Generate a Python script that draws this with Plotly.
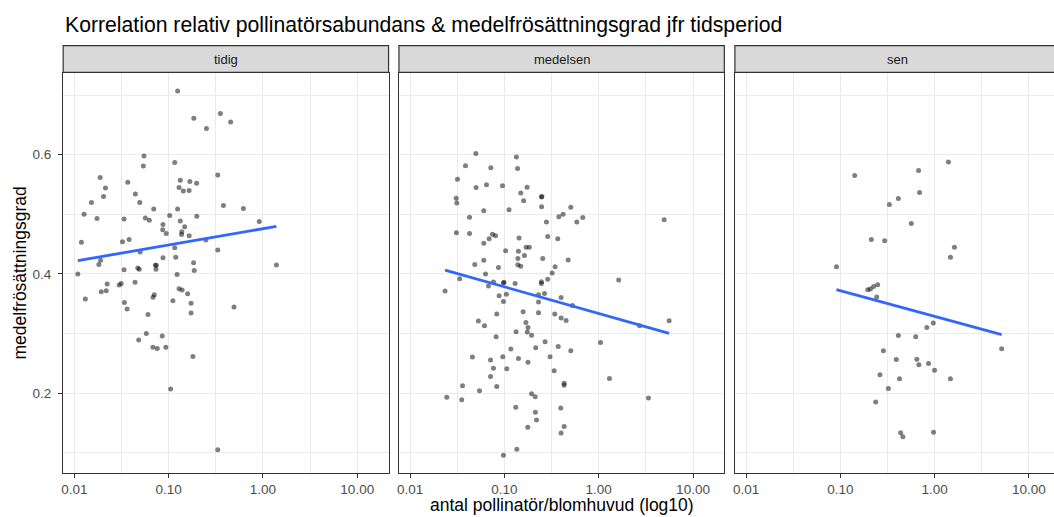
import numpy as np
import plotly.graph_objects as go

# ---------------- data ----------------
periods = ["tidig", "medelsen", "sen"]

tidig_x = [0.1245, 0.185, 0.354, 0.455, 0.252, 0.0548, 0.0539, 0.116, 0.0188, 0.0214,
           0.0204, 0.0152, 0.0127, 0.0174, 0.0369, 0.0444, 0.0494, 0.0337, 0.0566, 0.0624,
           0.0695, 0.133, 0.129, 0.143, 0.168, 0.198, 0.165, 0.332, 0.381, 0.620,
           0.914, 0.1026, 0.1245, 0.199, 0.133, 0.0871, 0.148, 0.0865, 0.0944, 0.138,
           0.137, 0.165, 0.248, 0.0119, 0.0324, 0.0381, 0.116, 0.332, 0.0498, 0.0871,
           0.119, 0.184, 1.39, 0.019, 0.0109, 0.0131, 0.0182, 0.0337, 0.0471, 0.0488,
           0.0723, 0.0741, 0.0735, 0.123, 0.187, 0.0193, 0.0218, 0.0223, 0.0299, 0.0314,
           0.0441, 0.034, 0.0363, 0.0604, 0.0705, 0.0683, 0.111, 0.129, 0.139, 0.159,
           0.173, 0.173, 0.493, 0.058, 0.0482, 0.0855, 0.0682, 0.0758, 0.0935, 0.181,
           0.105, 0.332]
tidig_y = [0.707, 0.661, 0.669, 0.655, 0.644, 0.598, 0.581, 0.587, 0.562, 0.544,
           0.530, 0.520, 0.500, 0.493, 0.554, 0.534, 0.520, 0.492, 0.494, 0.490,
           0.509, 0.557, 0.545, 0.539, 0.555, 0.552, 0.540, 0.566, 0.515, 0.510,
           0.488, 0.498, 0.509, 0.497, 0.489, 0.483, 0.479, 0.474, 0.468, 0.471,
           0.466, 0.464, 0.457, 0.453, 0.454, 0.458, 0.444, 0.440, 0.437, 0.427,
           0.428, 0.419, 0.415, 0.423, 0.400, 0.358, 0.416, 0.407, 0.410, 0.408,
           0.4145, 0.4145, 0.408, 0.399, 0.406, 0.370, 0.372, 0.383, 0.3815, 0.384,
           0.386, 0.352, 0.341, 0.332, 0.365, 0.361, 0.355, 0.375, 0.373, 0.367,
           0.351, 0.3345, 0.3445, 0.300, 0.289, 0.296, 0.277, 0.275, 0.277, 0.2615,
           0.207, 0.105]

medelsen_x = [0.0498, 0.134, 0.0387, 0.0718, 0.138, 0.0318, 0.0501, 0.0646, 0.0955, 0.174,
              0.149, 0.160, 0.0308, 0.0313, 0.247, 0.250, 0.248, 0.506, 0.0427, 0.0605,
              0.112, 0.378, 0.419, 0.678, 0.586, 0.279, 4.94, 0.031, 0.0427, 0.0748,
              0.0805, 0.0689, 0.0605, 0.143, 0.288, 0.368, 0.170, 0.184, 0.103, 0.141,
              0.163, 0.255, 0.474, 0.0485, 0.0605, 0.139, 0.139, 0.149, 0.0865, 0.345,
              0.321, 0.0336, 0.0631, 0.0235, 0.0766, 0.0678, 0.0977, 0.0990, 0.130, 0.247,
              0.247, 0.288, 1.63, 0.0879, 0.105, 0.0977, 0.230, 0.266, 0.230, 0.399,
              0.527, 0.158, 0.230, 0.083, 0.342, 0.399, 0.451, 5.58, 2.71, 0.053,
              0.0615, 0.169, 0.178, 0.175, 0.194, 0.133, 0.0817, 1.045, 0.270, 0.372,
              0.506, 0.215, 0.117, 0.0458, 0.0713, 0.0962, 0.141, 0.178, 0.305, 0.0766,
              0.106, 0.337, 0.0713, 1.30, 0.036, 0.083, 0.43, 0.43, 0.0545, 0.0245,
              0.0353, 3.37, 0.194, 0.212, 0.132, 0.396, 0.213, 0.219, 0.177, 0.43,
              0.399, 0.1355, 0.0977]
medelsen_y = [0.602, 0.596, 0.5815, 0.578, 0.577, 0.559, 0.545, 0.5495, 0.548, 0.5455,
              0.536, 0.523, 0.527, 0.519, 0.529, 0.530, 0.5126, 0.512, 0.495, 0.506,
              0.5076, 0.496, 0.500, 0.4946, 0.487, 0.487, 0.491, 0.469, 0.468, 0.4666,
              0.464, 0.459, 0.4515, 0.4605, 0.4627, 0.459, 0.445, 0.445, 0.439, 0.438,
              0.431, 0.426, 0.4235, 0.416, 0.423, 0.426, 0.4156, 0.413, 0.411, 0.412,
              0.4017, 0.392, 0.400, 0.3714, 0.3866, 0.380, 0.385, 0.386, 0.384, 0.387,
              0.384, 0.391, 0.390, 0.3635, 0.366, 0.354, 0.365, 0.3674, 0.353, 0.3607,
              0.347, 0.3366, 0.335, 0.3328, 0.3328, 0.326, 0.322, 0.3215, 0.313, 0.321,
              0.313, 0.3187, 0.310, 0.3025, 0.297, 0.303, 0.2946, 0.285, 0.2862, 0.2783,
              0.271, 0.276, 0.274, 0.2605, 0.2555, 0.261, 0.258, 0.252, 0.261, 0.242,
              0.241, 0.2375, 0.228, 0.2245, 0.2123, 0.211, 0.2168, 0.2135, 0.204, 0.193,
              0.189, 0.192, 0.199, 0.194, 0.1765, 0.175, 0.168, 0.155, 0.143, 0.144,
              0.133, 0.106, 0.096]

sen_x = [1.40, 0.142, 0.675, 0.692, 0.412, 0.331, 0.565, 0.213, 0.295, 1.62,
         1.47, 0.091, 0.195, 0.208, 0.2255, 0.249, 0.243, 0.966, 0.826, 0.412,
         0.63, 5.13, 0.286, 0.392, 0.647, 0.68, 0.861, 0.997, 0.263, 0.424,
         1.47, 0.323, 0.237, 0.436, 0.46, 0.973]
sen_y = [0.588, 0.565, 0.5736, 0.5366, 0.5266, 0.5165, 0.4845, 0.4576, 0.4555, 0.4447,
         0.428, 0.412, 0.3736, 0.3748, 0.379, 0.382, 0.3613, 0.3176, 0.310, 0.2968,
         0.2946, 0.2745, 0.271, 0.2565, 0.257, 0.2476, 0.2497, 0.2386, 0.231, 0.224,
         0.224, 0.2077, 0.1854, 0.1338, 0.127, 0.1345]

# linear fit (y ~ log10(x)) per period
fit_intercept = [0.4759, 0.3337, 0.3289]
fit_slope = [0.0273, -0.0447, -0.0432]

x_tick_vals = [0.01, 0.1, 1, 10]
x_tick_text = ["0.01", "0.10", "1.00", "10.00"]
x_minor_vals = [10 ** -1.5, 10 ** -0.5, 10 ** 0.5]
y_tick_vals = [0.2, 0.4, 0.6]
y_tick_text = ["0.2", "0.4", "0.6"]
y_minor_vals = [0.1, 0.3, 0.5, 0.7]

title_text = "Korrelation relativ pollinatörsabundans & medelfrösättningsgrad jfr tidsperiod"
x_title = "antal pollinatör/blomhuvud (log10)"
y_title = "medelfrösättningsgrad"

# ---------------- layout geometry ----------------
W, H = 1054, 517
FONT = "Liberation Sans, Arial, Helvetica, sans-serif"
panel_left = [61.3, 397.7, 734.3]
panel_w = 326.0
x_lo, x_hi = -2.118, 1.332          # log10 range per panel
panel_top, panel_bot = 73.3, 472.7
strip_top, strip_bot = 45.7, 72.3
y_range = [0.0666, 0.7366]

xs = [tidig_x, medelsen_x, sen_x]
ys = [tidig_y, medelsen_y, sen_y]

fig = go.Figure()
layout = dict(
    width=W, height=H, autosize=False,
    margin=dict(l=0, r=0, t=0, b=0, pad=0),
    paper_bgcolor="white", plot_bgcolor="white",
    showlegend=False,
    font=dict(family=FONT, color="#4D4D4D"),
)

grid = "#EBEBEB"
for i in range(3):
    sfx = "" if i == 0 else str(i + 1)
    left = panel_left[i]
    right = left + panel_w
    dom_r = min(right / W, 1.0)
    xr_hi = x_lo + (dom_r * W - left) / panel_w * (x_hi - x_lo)
    layout["xaxis" + sfx] = dict(
        type="log", domain=[left / W, dom_r], range=[x_lo, xr_hi],
        anchor="y" + sfx,
        tickmode="array", tickvals=x_tick_vals, ticktext=x_tick_text,
        ticks="outside", ticklen=4, tickwidth=1.1, tickcolor="#333333",
        tickfont=dict(size=13.5, color="#4D4D4D", family=FONT),
        showgrid=True, gridcolor=grid, gridwidth=1.1,
        minor=dict(tickmode="array", tickvals=x_minor_vals, showgrid=True,
                   gridcolor=grid, gridwidth=0.55, ticks=""),
        showline=True, linecolor="#333333", linewidth=1.2, mirror=True,
        zeroline=False,
    )
    layout["yaxis" + sfx] = dict(
        domain=[1 - panel_bot / H, 1 - panel_top / H], range=y_range,
        anchor="x" + sfx,
        tickmode="array", tickvals=y_tick_vals, ticktext=y_tick_text,
        ticks="outside" if i == 0 else "", ticklen=4, tickwidth=1.1, tickcolor="#333333",
        showticklabels=(i == 0), ticklabelstandoff=4,
        tickfont=dict(size=13.5, color="#4D4D4D", family=FONT),
        showgrid=True, gridcolor=grid, gridwidth=1.1,
        minor=dict(tickmode="array", tickvals=y_minor_vals, showgrid=True,
                   gridcolor=grid, gridwidth=0.55, ticks=""),
        showline=True, linecolor="#333333", linewidth=1.2, mirror=(i < 2),
        zeroline=False,
    )

    fig.add_trace(go.Scatter(
        x=xs[i], y=ys[i], mode="markers", xaxis="x" + sfx, yaxis="y" + sfx,
        marker=dict(size=5, color="rgba(0,0,0,0.5)", line=dict(width=0)),
        hoverinfo="skip",
    ))
    lx = np.log10(np.array(xs[i]))
    line_lx = np.array([lx.min(), lx.max()])
    line_y = fit_intercept[i] + fit_slope[i] * line_lx
    fig.add_trace(go.Scatter(
        x=10 ** line_lx, y=line_y, mode="lines", xaxis="x" + sfx, yaxis="y" + sfx,
        line=dict(color="#3366FF", width=2.8), hoverinfo="skip",
    ))

shapes = []
annotations = []
for i, name in enumerate(periods):
    left = panel_left[i]
    right = left + panel_w
    shapes.append(dict(
        type="rect", xref="paper", yref="paper",
        x0=left / W, x1=right / W, y0=1 - strip_bot / H, y1=1 - strip_top / H,
        fillcolor="#D9D9D9", line=dict(color="#333333", width=1.2), layer="above",
    ))
    annotations.append(dict(
        text=name, xref="paper", yref="paper",
        x=(left + right) / 2 / W,
        y=1 - (strip_top + strip_bot) / 2 / H,
        xanchor="center", yanchor="middle", showarrow=False,
        font=dict(size=13, color="#1A1A1A", family=FONT),
    ))

annotations.append(dict(
    text=title_text, xref="paper", yref="paper", x=61 / W, y=1 - 25 / H,
    xanchor="left", yanchor="middle", showarrow=False,
    font=dict(size=21.2, color="black", family=FONT),
))
annotations.append(dict(
    text=x_title, xref="paper", yref="paper",
    x=(panel_left[0] + panel_left[2] + panel_w) / 2 / W, y=1 - 504.5 / H,
    xanchor="center", yanchor="middle", showarrow=False,
    font=dict(size=17.5, color="black", family=FONT),
))
annotations.append(dict(
    text=y_title, xref="paper", yref="paper", x=18.5 / W,
    y=1 - (panel_top + panel_bot) / 2 / H, textangle=-90,
    xanchor="center", yanchor="middle", showarrow=False,
    font=dict(size=17.5, color="black", family=FONT),
))

layout["shapes"] = shapes
layout["annotations"] = annotations
fig.update_layout(**layout)
fig.write_html("out.html")
